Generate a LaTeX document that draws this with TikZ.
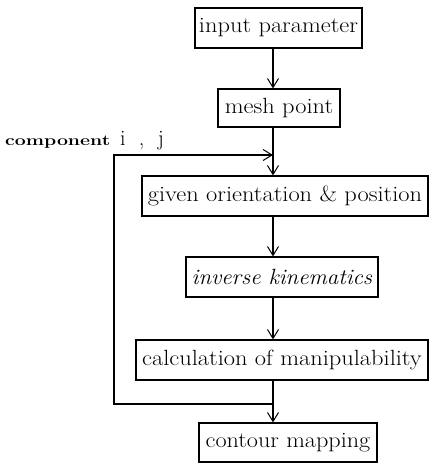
\documentclass[tikz,border=0pt]{standalone}
\usepackage{graphicx}
\usetikzlibrary{arrows.meta}
\newcommand{\wtxt}[2][1.11]{\scalebox{#1}[1]{#2}}
\begin{document}
\begin{tikzpicture}[x=1pt,y=-1pt,
  box/.style={draw,line width=1.1pt,inner sep=0pt,font=\fontsize{22}{26}\selectfont},
  conn/.style={line width=1.1pt},
  arr/.style={conn,-{Straight Barb[length=9pt,width=11pt,line width=1pt]}}]
\fill[white] (0,0) rectangle (430,464);
\useasboundingbox (0,0) rectangle (430,464);
\node[box,minimum width=167pt,minimum height=40pt] (b1) at (278.5,28) {\wtxt{input parameter}};
\node[box,minimum width=122pt,minimum height=38pt] (b2) at (279,108) {\wtxt{mesh point}};
\node[box,minimum width=286pt,minimum height=40pt] (b3) at (285,196) {\wtxt{given orientation \& position}};
\node[box,minimum width=192pt,minimum height=40pt] (b4) at (282,277) {\wtxt[1.04]{\textit{inverse kinematics}}};
\node[box,minimum width=292pt,minimum height=40pt] (b5) at (282,360) {\wtxt{calculation of manipulability}};
\node[box,minimum width=178pt,minimum height=39pt] (b6) at (288,442.5) {\wtxt[1.1]{contour mapping}};
\coordinate (sp) at (273,0);
\coordinate (jt) at (273,155);
\coordinate (lt) at (114,155);
\coordinate (lb) at (114,404);
\coordinate (jb) at (273,404);
\draw[arr] (b1.south -| sp) -- (b2.north -| sp);
\draw[arr] (b2.south -| sp) -- (b3.north -| sp);
\draw[arr] (b3.south -| sp) -- (b4.north -| sp);
\draw[arr] (b4.south -| sp) -- (b5.north -| sp);
\draw[arr] (b5.south -| sp) -- (b6.north -| sp);
\draw[arr] (jb) -- (lb) -- (lt) -- (jt);
\node[anchor=base west,inner sep=0pt,font=\fontsize{15}{17}\selectfont\bfseries] (lab) at (5,145) {\scalebox{1.3}[1]{component}};
\node[anchor=base west,inner sep=0pt,font=\fontsize{22}{26}\selectfont] (ij) at (120,145) {i\ \ ,\ \ j};
\end{tikzpicture}
\end{document}
